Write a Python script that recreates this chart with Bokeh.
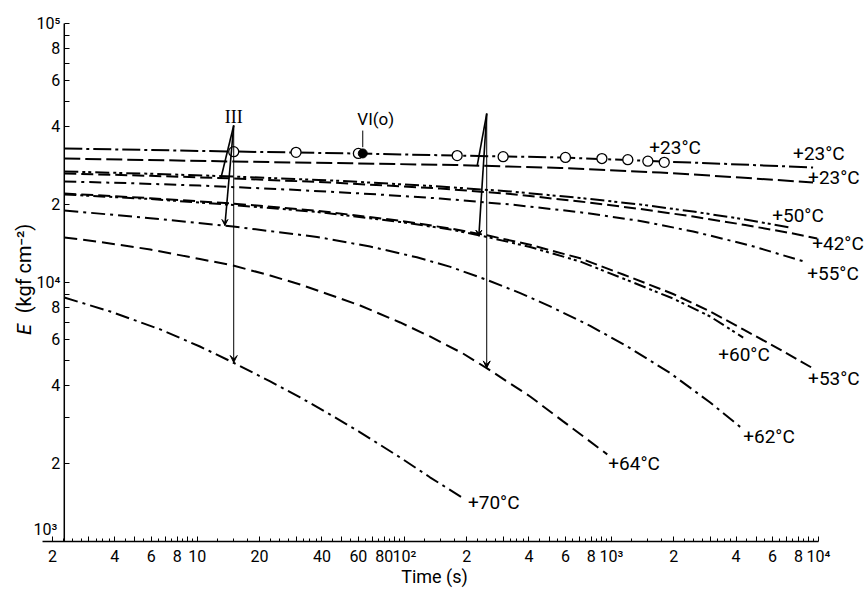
from math import pi
from bokeh.plotting import figure
from bokeh.models import FixedTicker, Arrow, VeeHead, ColumnDataSource
from bokeh.core.properties import value
from bokeh.embed import file_html
from bokeh.resources import INLINE

# ---------------- data ----------------
t23_long = [2.28, 5.93, 14.9, 59.2, 176, 585, 1778, 4190, 9420]
E23_long = [32910, 32480, 32040, 31480, 30920, 30380, 29320, 28550, 27800]

t23_circ = [15, 30, 60, 180, 300, 600, 900, 1200, 1500, 1800]
E23_circ = [32000, 31800, 31500, 30900, 30600, 30400, 30100, 29800, 29400, 29100]

t23_dash = [2.28, 14.9, 54.8, 176, 566, 1720, 4190, 9420]
E23_dash = [30110, 29320, 28850, 28420, 27680, 26590, 25430, 24320]

t50 = [2.28, 5.93, 14.9, 43.9, 149, 325, 707, 1377, 2483, 4430, 7300]
E50 = [26830, 26290, 25660, 24790, 23480, 22460, 21200, 20010, 18790, 17510, 16310]

t42 = [2.28, 5.93, 14.9, 43.9, 149, 325, 707, 1377, 2483, 4430, 7300, 9860]
E42 = [26350, 25820, 25210, 24330, 23060, 21970, 20550, 19220, 17980, 16670, 15530, 14790]

t55 = [2.28, 4.75, 10.3, 29.1, 68.4, 149, 325, 707, 1377, 2483, 4680, 8820]
E55 = [24550, 24180, 23670, 22800, 21970, 21100, 20010, 18680, 17290, 15740, 13900, 11950]

t53 = [2.28, 5.93, 14.9, 37.9, 95.5, 167, 251, 405, 707, 1140, 1987, 3000, 4330, 6530, 9420]
E53 = [22060, 21160, 20170, 18930, 17320, 16160, 15210, 13980, 12400, 10740, 9030, 7730, 6590, 5510, 4660]

t60 = [2.28, 5.93, 14.9, 37.9, 95.5, 167, 251, 405, 707, 1140, 1987, 3000, 4330]
E60 = [21870, 21010, 19920, 18720, 17130, 16020, 14990, 13710, 12050, 10360, 8670, 7390, 6130]

t62 = [2.28, 5.93, 14.9, 37.9, 68.4, 115, 167, 251, 363, 506, 790, 1191, 1922, 3000, 4330]
E62 = [18970, 17720, 16450, 14990, 13770, 12510, 11490, 10230, 9100, 8090, 6800, 5670, 4470, 3440, 2710]

t64 = [2.28, 3.40, 5.93, 10.3, 14.9, 22.5, 31.4, 43.9, 61.2, 95.5, 133, 192, 251, 405, 585, 955]
E64 = [14920, 14340, 13410, 12320, 11630, 10640, 9820, 8950, 8150, 7010, 6190, 5320, 4660, 3630, 2910, 2170]

t70 = [2.28, 3.80, 6.63, 10.3, 14.9, 22.5, 31.4, 43.9, 61.2, 95.5, 133, 192]
E70 = [8750, 7730, 6590, 5660, 4910, 4150, 3600, 3090, 2640, 2110, 1770, 1470]

curve_labels = ["+23°C", "+23°C", "+23°C", "+50°C", "+42°C", "+55°C",
                "+60°C", "+53°C", "+62°C", "+64°C", "+70°C"]

# annotation data: vertical arrows (III) at two times
fan_t = [15, 250]
fan_top_E = [40400, 44900]
fan_bottom_E = [4910, 4680]
fan_leg_t = [13.0, 13.6, 225, 229]
fan_leg_E = [25200, 16600, 28300, 15100]
fan_leg_of = [0, 0, 1, 1]

vi_t = [63]
vi_E = [31500]
vi_leader_E = [38600, 33300]

x_ticks = [2, 3, 4, 5, 6, 7, 8, 9, 10, 20, 30, 40, 50, 60, 70, 80, 90,
           100, 200, 300, 400, 500, 600, 700, 800, 900,
           1000, 2000, 3000, 4000, 5000, 6000, 7000, 8000, 9000, 10000]
x_tick_labels = ["2", "", "4", "", "6", "", "8", "", "10", "20", "", "40", "", "60", "", "80", "",
                 "10²", "2", "", "4", "", "6", "", "8", "",
                 "10³", "2", "", "4", "", "6", "", "8", "", "10⁴"]
y_ticks = [1000, 2000, 3000, 4000, 5000, 6000, 7000, 8000, 9000,
           10000, 20000, 30000, 40000, 50000, 60000, 70000, 80000, 90000, 100000]
y_tick_labels = ["10³", "2", "", "4", "", "6", "", "8", "",
                 "10⁴", "2", "", "4", "", "6", "", "8", "", "10⁵"]

x_title = "Time (s)"
y_title_sym = "E"
y_title_unit = "(kgf cm⁻²)"

# axis extents (time where the drawn time-axis line starts; vertical axis at the curves' start)
x_axis_from = 1.79
y_axis_at = t23_long[0]

# ---------------- figure ----------------
FONT = "Roboto"
p = figure(width=868, height=591, x_axis_type="log", y_axis_type="log",
           x_range=(1.1218, 17442), y_range=(641.2, 122680),
           output_backend="svg", toolbar_location=None,
           min_border_left=0, min_border_right=0, min_border_top=0, min_border_bottom=0)
p.outline_line_color = None
p.grid.visible = False
p.background_fill_color = "white"
p.border_fill_color = "white"

xa = p.xaxis[0]
xa.fixed_location = y_ticks[0]
xa.ticker = FixedTicker(ticks=x_ticks, minor_ticks=[m * d for d in (1, 10, 100, 1000)
                                                    for m in (1.25, 1.5, 1.75, 2.25, 2.5, 2.75, 3.25, 3.5, 3.75,
                                                              4.5, 5.5, 6.5, 7.5, 8.5, 9.5) if 2 < m * d < 1e4])
xa.major_label_overrides = {t: s for t, s in zip(x_ticks, x_tick_labels)}
xa.major_tick_in = 5
xa.major_tick_out = 0
xa.minor_tick_in = 3
xa.minor_tick_out = 0
xa.axis_line_color = None
xa.major_label_text_font = FONT
xa.major_label_text_font_size = "16px"
xa.major_label_text_color = "black"
xa.major_label_standoff = 5
xa.axis_label = x_title
xa.axis_label_text_font = FONT
xa.axis_label_text_font_size = "18px"
xa.axis_label_text_color = "black"
xa.axis_label_text_font_style = "normal"
xa.axis_label_standoff = -3

ya = p.yaxis[0]
ya.fixed_location = y_axis_at
ya.ticker = FixedTicker(ticks=y_ticks)
ya.major_label_overrides = {t: s for t, s in zip(y_ticks[1:], y_tick_labels[1:])}
ya.major_label_overrides[y_ticks[0]] = ""
ya.major_tick_in = 5
ya.major_tick_out = 0
ya.minor_tick_line_color = None
ya.axis_line_color = None
ya.major_label_text_font = FONT
ya.major_label_text_font_size = "16px"
ya.major_label_text_color = "black"
ya.major_label_standoff = 4
ya.axis_label = None

# the lowest E label sits just above the time axis
p.text([y_axis_at], [y_ticks[0]], text=[y_tick_labels[0]], text_font=value(FONT),
       text_font_size="16px", text_align="right", text_baseline="middle", x_offset=-7, y_offset=-12)

# axis titles
p.text([y_axis_at], [y_ticks[9]], text=[y_title_sym], text_font=value(FONT),
       text_font_style="italic", text_font_size="20px", angle=pi / 2,
       text_align="center", text_baseline="middle", x_offset=-40, y_offset=47)
p.text([y_axis_at], [y_ticks[9]], text=[y_title_unit], text_font=value(FONT),
       text_font_size="20px", angle=pi / 2,
       text_align="center", text_baseline="middle", x_offset=-40, y_offset=-14)

# axis lines
p.line([x_axis_from, x_ticks[-1]], [y_ticks[0], y_ticks[0]], line_color="black", line_width=1.5)
p.line([y_axis_at, y_axis_at], [y_ticks[0], y_ticks[-1]], line_color="black", line_width=1.5)

# ---------------- curves ----------------
curves = [
    (t23_long, E23_long, "18 4 3 4"),
    (t23_dash, E23_dash, "16 5"),
    (t50, E50, "14 4 3 3 3 4"),
    (t42, E42, "12 5"),
    (t55, E55, "12 5 3 5"),
    (t60, E60, "12 4 3 3 3 4"),
    (t53, E53, "12 5"),
    (t62, E62, "14 5 3 5"),
    (t64, E64, "13 6"),
    (t70, E70, "14 5 3 5"),
]
for t, E, dash in curves:
    p.line(t, E, line_color="black", line_width=2, line_dash=dash)

p.scatter(t23_circ, E23_circ, marker="circle", size=10, fill_color="white",
          line_color="black", line_width=1.3)
p.scatter(vi_t, vi_E, marker="circle", size=9, fill_color="black", line_color="black")
p.line([vi_t[0], vi_t[0]], vi_leader_E, line_color="black", line_width=1)

# III annotations
for i in range(len(fan_t)):
    p.line([fan_t[i], fan_t[i]], [fan_top_E[i], fan_bottom_E[i]], line_color="black", line_width=1)
leg_src = ColumnDataSource(dict(
    x0=[fan_t[k] for k in fan_leg_of], y0=[fan_top_E[k] for k in fan_leg_of],
    x1=fan_leg_t, y1=fan_leg_E))
p.segment("x0", "y0", "x1", "y1", source=leg_src, line_color="black", line_width=1.6)
arr_src = ColumnDataSource(dict(x0=fan_t, y0=[e * 1.4 for e in fan_bottom_E], x1=fan_t, y1=fan_bottom_E))
p.add_layout(Arrow(end=VeeHead(size=7, line_color="black", line_width=1), line_color=None,
                   x_start="x0", y_start="y0", x_end="x1", y_end="y1", source=arr_src))
leg_arr = ColumnDataSource(dict(x0=[fan_leg_t[1], fan_leg_t[3]],
                                y0=[fan_leg_E[1] * 1.1, fan_leg_E[3] * 1.1],
                                x1=[fan_leg_t[1], fan_leg_t[3]], y1=[fan_leg_E[1], fan_leg_E[3]]))
p.add_layout(Arrow(end=VeeHead(size=6, line_color="black", line_width=1), line_color=None,
                   x_start="x0", y_start="y0", x_end="x1", y_end="y1", source=leg_arr))

p.text([fan_t[0]], [fan_top_E[0]], text=["III"], text_font=value("Liberation Serif"),
       text_font_size="18px", text_align="center", text_baseline="bottom", y_offset=2)
p.text([vi_t[0]], [vi_leader_E[0]], text=["VI(o)"], text_font=value(FONT),
       text_font_size="17px", text_align="center", text_baseline="bottom", x_offset=13, y_offset=-2)

# ---------------- curve labels ----------------
ends = [(t23_circ[-1], E23_circ[-1]), (t23_long[-1], E23_long[-1]), (t23_dash[-1], E23_dash[-1]),
        (t50[-1], E50[-1]), (t42[-1], E42[-1]), (t55[-1], E55[-1]), (t60[-1], E60[-1]),
        (t53[-1], E53[-1]), (t62[-1], E62[-1]), (t64[-1], E64[-1]), (t70[-1], E70[-1])]
offsets = [(-15, -15), (-20, -14), (-5, -5), (-18, -12), (-5, 5), (0, 11),
           (-25, 17), (-5, 10), (0, 7), (1, 9), (5, 4)]
lab_src = ColumnDataSource(dict(
    x=[e[0] for e in ends], y=[e[1] for e in ends], text=curve_labels,
    dx=[o[0] for o in offsets], dy=[o[1] for o in offsets]))
p.text("x", "y", text="text", source=lab_src, x_offset="dx", y_offset="dy",
       text_font=value(FONT), text_font_size="19px", text_align="left", text_baseline="middle",
       text_color="black")

open("out.html", "w").write(file_html(p, INLINE))
